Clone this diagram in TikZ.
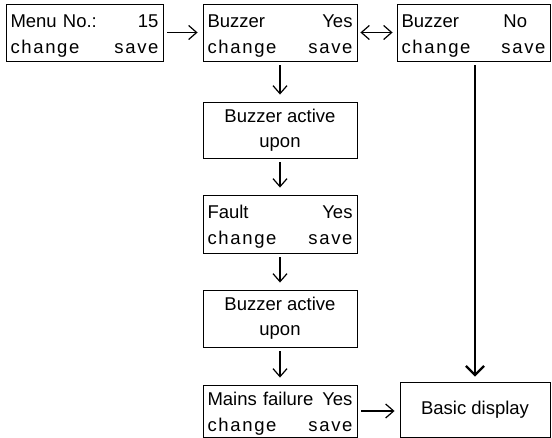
\documentclass[tikz,border=0pt]{standalone}
\usepackage{fontspec}
\setmainfont{Liberation Sans}
\newfontfamily\wideface[LetterSpace=9]{Liberation Sans}
\usetikzlibrary{arrows.meta}

\newcommand{\lcdlines}[4]{\rule{0pt}{19pt}#1\hfill#2\\{\wideface #3\hfill#4}}

\begin{document}
\begin{tikzpicture}[x=1pt,y=-1pt,
  lcd/.style={draw,line width=0.9pt,inner xsep=4.5pt,inner ysep=0pt,
    minimum height=57pt,text width=#1,align=left,
    font=\fontsize{18.5}{26}\selectfont},
  lcd/.default=145pt,
  msg/.style={draw,line width=0.9pt,inner sep=0pt,minimum width=154pt,
    minimum height=57pt,align=center,font=\fontsize{18.5}{25}\selectfont},
  flow/.style={-{Straight Barb[length=8pt,width=14pt]},line width=1.2pt,
    shorten <=4pt,shorten >=5pt},
  longflow/.style={flow,line width=2.2pt,
    -{Straight Barb[length=9pt,width=18pt]}}]
\useasboundingbox (0,0) rectangle (552,438);

% top row
\node[lcd=148pt] (menu) at (84.5,32.5) {\lcdlines{Menu No.:}{15}{change}{save}};
\node[lcd] (buzzyes) at (280,32.5) {\lcdlines{Buzzer}{Yes}{change}{save}};
\node[lcd=144pt] (buzzno) at (473.5,32.5) {\lcdlines{Buzzer}{\makebox[42pt][l]{No}}{change}{save}};

% middle column
\node[msg,minimum height=56pt] (activeA) at (280,130) {Buzzer active\\upon};
\node[lcd,minimum height=58pt] (fault) at (280,224) {\lcdlines{Fault}{Yes}{change}{save}};
\node[msg] (activeB) at (280,318.5) {Buzzer active\\upon};
\node[lcd,minimum height=52pt] (mains) at (280,411) {\lcdlines{Mains failure}{Yes}{change}{save}};

% end
\node[msg,minimum width=150pt,minimum height=55pt] (basic) at (475,409.5) {Basic display};

\draw[flow] (menu) -- (buzzyes);
\draw[flow,{Straight Barb[length=8pt,width=14pt]}-{Straight Barb[length=8pt,width=14pt]},shorten <=3pt,shorten >=4pt] (buzzyes) -- (buzzno);
\draw[flow,shorten >=7pt] (buzzyes) -- (activeA);
\draw[flow,shorten >=7pt] (activeA) -- (fault);
\draw[flow,shorten >=7pt] (fault) -- (activeB);
\draw[flow,shorten >=7pt] (activeB) -- (mains);
\draw[flow] (mains.east) -- (mains.east -| basic.west);
\draw[longflow] (buzzno.south -| basic.north) -- (basic);
\end{tikzpicture}
\end{document}
